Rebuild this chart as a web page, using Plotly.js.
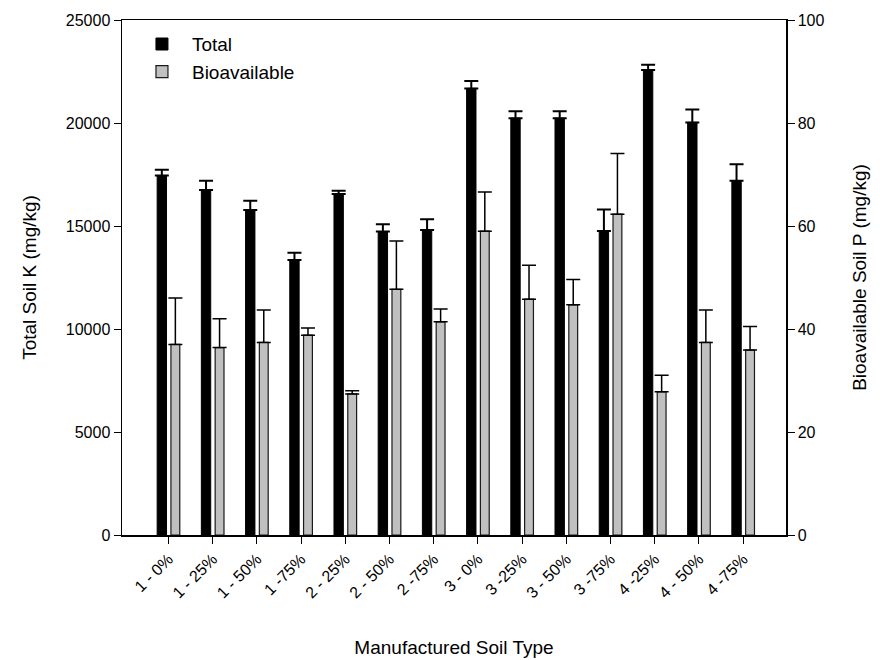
<!DOCTYPE html>
<html>
<head>
<meta charset="utf-8">
<script src="https://cdn.plot.ly/plotly-3.0.1.min.js"></script>
<style>html,body{margin:0;padding:0;background:#fff;}#chart{width:880px;height:660px;}</style>
</head>
<body>
<div id="chart"></div>
<script>
const categories = ["1 - 0%", "1 - 25%", "1 - 50%", "1 -75%", "2 - 25%", "2 - 50%", "2 -75%", "3 - 0%", "3 -25%", "3 - 50%", "3 -75%", "4 -25%", "4 - 50%", "4 -75%"];
const totalK = [17450, 16750, 15780, 13350, 16550, 14730, 14810, 21680, 20230, 20230, 14760, 22570, 20030, 17200];
const totalKErr = [280, 450, 440, 355, 165, 355, 520, 356, 340, 340, 1036, 260, 630, 795];
const bioP = [37.0, 36.4, 37.4, 38.8, 27.4, 47.7, 41.4, 59.0, 45.8, 44.7, 62.3, 27.8, 37.4, 35.9];
const bioPErr = [9.0, 5.6, 6.3, 1.4, 0.6, 9.4, 2.5, 7.6, 6.6, 4.9, 11.8, 3.2, 6.3, 4.6];
const leftTicks = [0, 5000, 10000, 15000, 20000, 25000];
const rightTicks = [0, 20, 40, 60, 80, 100];

const font = "Liberation Sans, Arial, sans-serif";
const zeros = arr => arr.map(() => 0);

const traces = [
  {
    type: "bar", name: "Total", x: categories, y: totalK,
    yaxis: "y", offset: -0.255, width: 0.212,
    marker: {color: "#000000", line: {color: "#000000", width: 1}},
    error_y: {type: "data", symmetric: false, array: totalKErr, arrayminus: zeros(totalKErr),
              color: "#000000", thickness: 2, width: 7}
  },
  {
    type: "bar", name: "Bioavailable", x: categories, y: bioP,
    yaxis: "y2", offset: 0.057, width: 0.2,
    marker: {color: "#c0c0c0", line: {color: "#1a1a1a", width: 1.2}},
    error_y: {type: "data", symmetric: false, array: bioPErr, arrayminus: zeros(bioPErr),
              color: "#000000", thickness: 1.5, width: 7}
  }
];

const layout = {
  width: 880, height: 660,
  margin: {l: 122, r: 94, t: 20, b: 125},
  paper_bgcolor: "#ffffff", plot_bgcolor: "#ffffff",
  font: {family: font, color: "#000000", size: 16},
  showlegend: true,
  barmode: "overlay",
  legend: {x: 0.015, y: 0.99, xanchor: "left", yanchor: "top", bgcolor: "rgba(0,0,0,0)",
           font: {family: font, size: 19, color: "#000"}, itemwidth: 50, tracegroupgap: 0},
  xaxis: {
    type: "category", range: [-1.05, 13.97],
    showline: true, linecolor: "#000", linewidth: 1.5, mirror: true,
    ticks: "outside", ticklen: 7, tickcolor: "#000", tickwidth: 1,
    tickangle: -45, tickfont: {family: font, size: 16},
    showgrid: false, zeroline: false,
    title: {text: "Manufactured Soil Type", font: {family: font, size: 19}, standoff: 40}
  },
  yaxis: {
    range: [0, 25000], tickvals: leftTicks, ticktext: leftTicks.map(String),
    showline: true, linecolor: "#000", linewidth: 1.5,
    ticks: "outside", ticklen: 7, tickcolor: "#000",
    tickfont: {family: font, size: 16},
    showgrid: false, zeroline: false,
    title: {text: "Total Soil K (mg/kg)", font: {family: font, size: 19}, standoff: 24}
  },
  yaxis2: {
    range: [0, 100], tickvals: rightTicks, ticktext: rightTicks.map(String),
    overlaying: "y", side: "right",
    showline: true, linecolor: "#000", linewidth: 1.5,
    ticks: "outside", ticklen: 7, tickcolor: "#000",
    tickfont: {family: font, size: 16},
    showgrid: false, zeroline: false,
    title: {text: "Bioavailable Soil P (mg/kg)", font: {family: font, size: 19}, standoff: 29}
  }
};

Plotly.newPlot("chart", traces, layout, {displayModeBar: false, staticPlot: true});
</script>
</body>
</html>
